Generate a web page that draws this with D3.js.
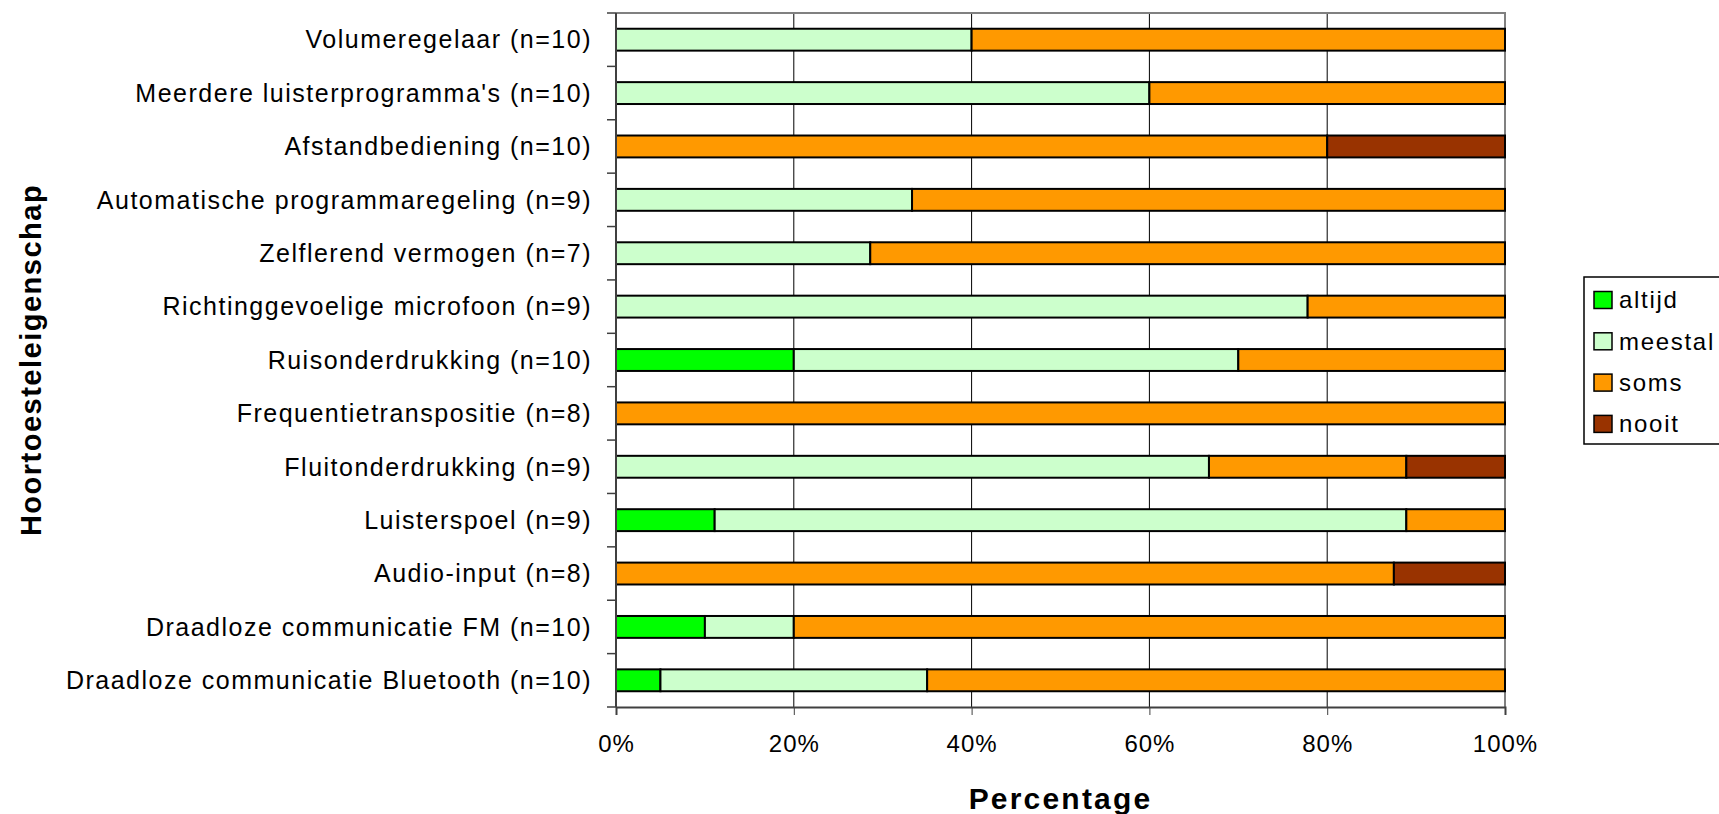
<!DOCTYPE html>
<html>
<head>
<meta charset="utf-8">
<script src="https://cdn.jsdelivr.net/npm/d3@7"></script>
<style>
	body { margin: 0; background: #fff; }
	svg text { font-family: "Liberation Sans", Arial, Helvetica, sans-serif; fill: #000; }
</style>
</head>
<body>
<div id="chart"></div>
<script>
// categories top to bottom
var categories = [
	"Volumeregelaar (n=10)",
	"Meerdere luisterprogramma's (n=10)",
	"Afstandbediening (n=10)",
	"Automatische programmaregeling (n=9)",
	"Zelflerend vermogen (n=7)",
	"Richtinggevoelige microfoon (n=9)",
	"Ruisonderdrukking (n=10)",
	"Frequentietranspositie (n=8)",
	"Fluitonderdrukking (n=9)",
	"Luisterspoel (n=9)",
	"Audio-input (n=8)",
	"Draadloze communicatie FM (n=10)",
	"Draadloze communicatie Bluetooth (n=10)"
];

var seriesNames = ["altijd", "meestal", "soms", "nooit"];
var seriesColors = ["#00ff00", "#ccffcc", "#ff9900", "#993300"];

// percentages per category, same order as categories
var altijd  = [0, 0, 0, 0, 0, 0, 20, 0, 0, 11.1, 0, 10, 5];
var meestal = [40, 60, 0, 33.3, 28.6, 77.8, 50, 0, 66.7, 77.8, 0, 10, 30];
var soms    = [60, 40, 80, 66.7, 71.4, 22.2, 30, 100, 22.2, 11.1, 87.5, 80, 65];
var nooit   = [0, 0, 20, 0, 0, 0, 0, 0, 11.1, 0, 12.5, 0, 0];

var xTicks = [0, 20, 40, 60, 80, 100];

var W = 1719, H = 814;
var margin = {left: 616, right: 214, top: 13, bottom: 107};

var rows = categories.map(function (c, i) {
	return {cat: c, altijd: altijd[i], meestal: meestal[i], soms: soms[i], nooit: nooit[i]};
});

var svg = d3.select("#chart").append("svg")
	.attr("width", W)
	.attr("height", H);

var x = d3.scaleLinear().domain([0, 100]).range([margin.left, W - margin.right]);
var y = d3.scaleBand().domain(categories).range([margin.top, H - margin.bottom]).paddingInner(0.59).paddingOuter(0.295);
var yb = d3.scaleBand().domain(categories).range([margin.top, H - margin.bottom]);

// gridlines
svg.append("g").selectAll("line")
	.data(xTicks.slice(1, -1))
	.enter().append("line")
	.attr("x1", function (d) { return x(d); })
	.attr("x2", function (d) { return x(d); })
	.attr("y1", margin.top)
	.attr("y2", H - margin.bottom)
	.attr("stroke", "#000")
	.attr("stroke-width", 1);

// plot border top/right
svg.append("path")
	.attr("d", "M" + x(0) + "," + margin.top + "H" + x(100) + "V" + (H - margin.bottom))
	.attr("fill", "none")
	.attr("stroke", "#808080")
	.attr("stroke-width", 2);

// stacked bars
var stack = d3.stack().keys(seriesNames)(rows);
var color = d3.scaleOrdinal().domain(seriesNames).range(seriesColors);

svg.append("g").selectAll("g")
	.data(stack)
	.enter().append("g")
	.attr("fill", function (d) { return color(d.key); })
	.selectAll("rect")
	.data(function (d) { return d.filter(function (p) { return p[1] - p[0] > 0; }); })
	.enter().append("rect")
	.attr("x", function (d) { return x(d[0]); })
	.attr("width", function (d) { return x(d[1]) - x(d[0]); })
	.attr("y", function (d) { return y(d.data.cat); })
	.attr("height", y.bandwidth())
	.attr("stroke", "#000")
	.attr("stroke-width", 2);

// x axis
var xAxis = svg.append("g")
	.attr("transform", "translate(0," + (H - margin.bottom) + ")")
	.call(d3.axisBottom(x).tickValues(xTicks).tickFormat(function (d) { return d + "%"; }).tickSize(8).tickPadding(20));
xAxis.select(".domain").attr("stroke", "#404040").attr("stroke-width", 2);
xAxis.selectAll(".tick line").attr("stroke", "#404040");
xAxis.selectAll("text")
	.attr("font-size", 24)
	.attr("letter-spacing", 1)
	.attr("font-family", "Liberation Sans, Arial, sans-serif")
	.attr("fill", "#000");

// y axis - ticks at band boundaries
var yAxis = svg.append("g").attr("transform", "translate(" + margin.left + ",0)");
yAxis.append("line")
	.attr("x1", 0).attr("x2", 0)
	.attr("y1", margin.top).attr("y2", H - margin.bottom)
	.attr("stroke", "#404040").attr("stroke-width", 2);
var bounds = categories.map(function (c) { return yb(c); }).concat([H - margin.bottom]);
yAxis.selectAll("line.tk")
	.data(bounds)
	.enter().append("line")
	.attr("class", "tk")
	.attr("x1", -9).attr("x2", 0)
	.attr("y1", function (d) { return d; })
	.attr("y2", function (d) { return d; })
	.attr("stroke", "#404040").attr("stroke-width", 1.5);
yAxis.selectAll("text")
	.data(categories)
	.enter().append("text")
	.attr("x", -24)
	.attr("y", function (d) { return yb(d) + yb.bandwidth() / 2; })
	.attr("dy", "0.35em")
	.attr("text-anchor", "end")
	.attr("font-size", 25)
	.attr("letter-spacing", 1.5)
	.text(function (d) { return d; });

// axis titles
svg.append("text")
	.attr("x", (x(0) + x(100)) / 2)
	.attr("y", 798)
	.attr("dy", "0.35em")
	.attr("text-anchor", "middle")
	.attr("font-size", 30)
	.attr("font-weight", "bold")
	.attr("letter-spacing", 2.2)
	.text("Percentage");

svg.append("text")
	.attr("transform", "translate(31," + ((margin.top + H - margin.bottom) / 2) + ") rotate(-90)")
	.attr("dy", "0.35em")
	.attr("text-anchor", "middle")
	.attr("font-size", 29)
	.attr("font-weight", "bold")
	.attr("letter-spacing", 1.5)
	.text("Hoortoesteleigenschap");

// legend
var legend = svg.append("g").attr("transform", "translate(1584,277)");
legend.append("rect")
	.attr("x", 0).attr("y", 0)
	.attr("width", 150).attr("height", 167)
	.attr("fill", "#fff")
	.attr("stroke", "#000")
	.attr("stroke-width", 1.5);
var li = legend.selectAll("g.item")
	.data(seriesNames)
	.enter().append("g")
	.attr("class", "item")
	.attr("transform", function (d, i) { return "translate(10," + (23 + i * 41.3) + ")"; });
li.append("rect")
	.attr("x", 0).attr("y", -8.5)
	.attr("width", 18).attr("height", 17)
	.attr("fill", function (d) { return color(d); })
	.attr("stroke", "#000")
	.attr("stroke-width", 1.5);
li.append("text")
	.attr("x", 25)
	.attr("dy", "0.35em")
	.attr("font-size", 24)
	.attr("letter-spacing", 1.7)
	.text(function (d) { return d; });
</script>
</body>
</html>
